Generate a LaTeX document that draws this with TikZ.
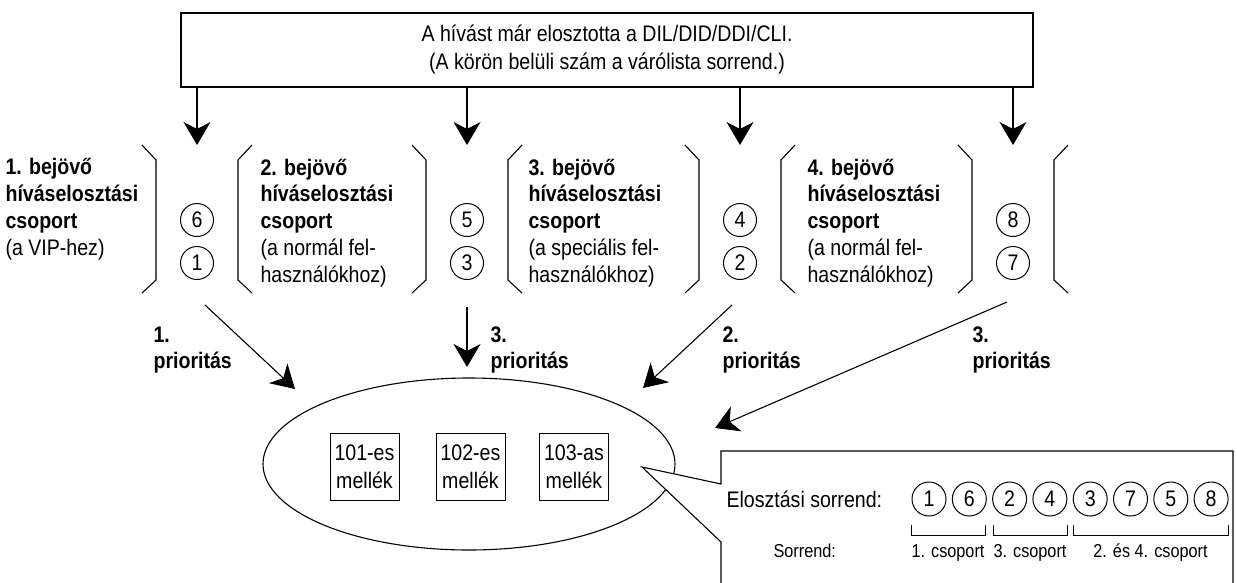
\documentclass[tikz,border=0pt]{standalone}
\usepackage{fontspec}
\setmainfont{Liberation Sans}[FakeStretch=0.87]
\usetikzlibrary{arrows.meta,shapes.geometric}
\begin{document}
\begin{tikzpicture}[x=1pt,y=-1pt,
  line width=1.1pt,
  arr/.style={-{Stealth[length=23pt,width=27pt,inset=7pt]}},
  num/.style={circle,draw,line width=1pt,minimum size=33pt,inner sep=0pt,
    font=\fontsize{22.5}{24}\selectfont},
  grouptext/.style={anchor=base west,align=left,inner sep=0pt,
    font=\fontsize{22.5}{26.7}\selectfont},
  prio/.style={anchor=base west,align=left,inner sep=0pt,
    font=\fontsize{22.5}{26}\selectfont\bfseries},
  ext/.style={draw,line width=1pt,minimum width=69pt,minimum height=67pt,
    inner sep=0pt,align=center,font=\fontsize{22.5}{28}\selectfont},
  small/.style={inner sep=0pt,font=\fontsize{18.7}{20}\selectfont},
]
\useasboundingbox (0,0) rectangle (1237,582);
\clip (0,0) rectangle (1237,582);

% heading box
\node[draw,line width=1.3pt,minimum width=852pt,minimum height=74pt,
  align=center,font=\fontsize{22.5}{28}\selectfont] (top) at (607,50)
  {A hívást már elosztotta a DIL/DID/DDI/CLI.\\(A körön belüli szám a várólista sorrend.)};

% queue slots between the groups
\foreach \c/\u/\l [count=\k] in {197/6/1,467/5/3,740/4/2,1013/8/7}{
  \coordinate (in\k) at (\c,145);
  \draw[arr] (top.south -| in\k) -- (in\k);
  \draw (\c-55,145) -- (\c-41,160) -- (\c-41,280) -- (\c-55,293);
  \draw (\c+55,145) -- (\c+41,160) -- (\c+41,280) -- (\c+55,293);
  \node[num] (u\k) at (\c,220) {\u};
  \node[num] (l\k) at (\c,263) {\l};
}

% group descriptions (anchored at the baseline of the last line)
\node[grouptext] (g1) at (5,255)
  {\textbf{1. bejövő}\\\textbf{híváselosztási}\\\textbf{csoport}\\(a VIP-hez)};
\node[grouptext] (g2) at (260,282)
  {\textbf{2. bejövő}\\\textbf{híváselosztási}\\\textbf{csoport}\\(a normál fel-\\használókhoz)};
\node[grouptext] (g3) at (528,282)
  {\textbf{3. bejövő}\\\textbf{híváselosztási}\\\textbf{csoport}\\(a speciális fel-\\használókhoz)};
\node[grouptext] (g4) at (807,282)
  {\textbf{4. bejövő}\\\textbf{híváselosztási}\\\textbf{csoport}\\(a normál fel-\\használókhoz)};

% extension group
\node[draw,ellipse,minimum width=412pt,minimum height=172pt,inner sep=0pt] (stn) at (469,464) {};
\node[ext] (e1) at (364.5,466.5) {101-es\\mellék};
\node[ext] (e2) at (470.5,466.5) {102-es\\mellék};
\node[ext] (e3) at (574,466.5) {103-as\\mellék};

% priority arrows
\coordinate (s1) at (205,305);  \coordinate (t1) at (295,389);
\coordinate (s2) at (467,307);  \coordinate (t2) at (467,367);
\coordinate (s3) at (732,305);  \coordinate (t3) at (643,388);
\coordinate (s4) at (1007,302); \coordinate (t4) at (715,428);
\draw[arr] (s1) -- (t1);
\draw[arr] (s2) -- (t2);
\draw[arr] (s3) -- (t3);
\draw[arr] (s4) -- (t4);
\node[prio] (p1) at (153,368) {1.\\prioritás};
\node[prio] (p2) at (490,368) {3.\\prioritás};
\node[prio] (p3) at (722,368) {2.\\prioritás};
\node[prio] (p4) at (972,368) {3.\\prioritás};

% callout with the distribution order
\draw[fill=white] (642,467) -- (721,484) -- (721,451) -- (1233,451) -- (1233,600)
  -- (721,600) -- (721,542) -- cycle;
\node[anchor=base west,inner sep=0pt,font=\fontsize{22.5}{24}\selectfont] (ord) at (726,507) {Elosztási sorrend:};
\foreach \n [count=\i] in {1,6,2,4,3,7,5,8}
  \node[num,minimum size=34pt] (o\i) at ({929+40.3*(\i-1)},499) {\n};
\draw[line width=1pt] (911,525) -- (911,535) -- (985,535) -- (985,525);
\draw[line width=1pt] (993,525) -- (993,535) -- (1067,535) -- (1067,525);
\draw[line width=1pt] (1073,525) -- (1073,535) -- (1228,535) -- (1228,525);
\node[small,anchor=base west] (srt) at (773,557) {Sorrend:};
\node[small,anchor=base] (c1) at (948,557) {1. csoport};
\node[small,anchor=base] (c3) at (1030,557) {3. csoport};
\node[small,anchor=base] (c24) at (1150.5,557) {2. és 4. csoport};
\end{tikzpicture}
\end{document}
